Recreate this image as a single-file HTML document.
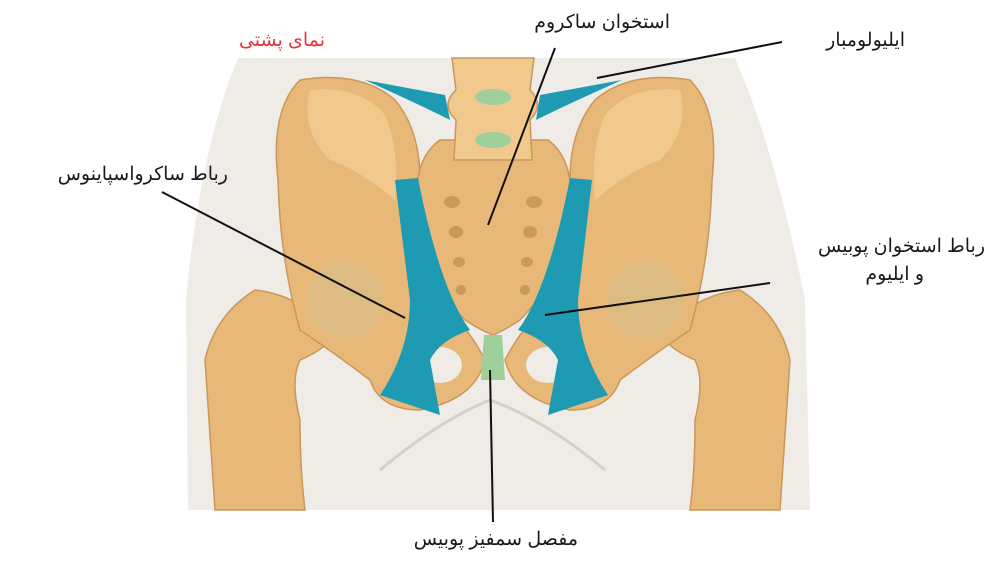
<!DOCTYPE html>
<html><head><meta charset="utf-8"><style>
body{margin:0;background:#fff;width:1000px;height:563px;overflow:hidden}
svg{display:block}
text{font-family:"Liberation Sans","Noto Sans CJK SC",sans-serif;font-size:19px;fill:#1a1a1a}
</style></head><body>
<svg width="1000" height="563" viewBox="0 0 1000 563">
<path d="M238 58 L735 58 Q775 150 805 300 L810 510 L188 510 L186 300 Q200 150 238 58 Z" fill="#efebe6"/>
<path d="M380 470 Q440 420 490 400 Q545 420 605 470" fill="none" stroke="#d6cfc7" stroke-width="3"/>
<g fill="#e7b877" stroke="#c9985a" stroke-width="1.5">
<path d="M215 510 L205 360 Q215 315 255 290 Q300 295 330 330 Q335 345 300 360 Q290 380 300 420 Q300 470 305 510 Z"/>
<path d="M780 510 L790 360 Q780 315 740 290 Q695 295 665 330 Q660 345 695 360 Q705 380 695 420 Q695 470 690 510 Z"/>
<path d="M300 80 Q360 70 395 100 Q420 130 420 180 L440 300 Q470 330 485 360 Q475 400 420 410 Q380 410 370 380 Q330 350 300 330 Q280 260 278 180 Q270 110 300 80 Z"/>
<path d="M690 80 Q630 70 595 100 Q570 130 570 180 L550 300 Q520 330 505 360 Q515 400 570 410 Q610 410 620 380 Q660 350 690 330 Q710 260 712 180 Q720 110 690 80 Z"/>
<path d="M440 140 L548 140 Q575 160 570 210 Q560 280 520 320 Q505 330 493 335 Q480 330 465 320 Q425 280 418 210 Q412 160 440 140 Z"/>
<path d="M452 58 L534 58 L530 90 Q545 105 530 120 L532 160 L454 160 L456 120 Q440 105 456 90 Z" fill="#f1c98d"/>
</g>
<path d="M310 90 Q360 85 385 115 Q400 150 395 200 Q360 170 330 160 Q300 130 310 90 Z" fill="#f2c98c"/>
<path d="M680 90 Q630 85 605 115 Q590 150 595 200 Q630 170 660 160 Q690 130 680 90 Z" fill="#f2c98c"/>
<circle cx="345" cy="300" r="38" fill="#d9bd84" opacity=".8"/>
<circle cx="645" cy="300" r="38" fill="#d9bd84" opacity=".8"/>
<ellipse cx="440" cy="365" rx="22" ry="18" fill="#efebe6"/>
<ellipse cx="548" cy="365" rx="22" ry="18" fill="#efebe6"/>
<ellipse cx="493" cy="97" rx="18" ry="8" fill="#9fcf9a"/>
<ellipse cx="493" cy="140" rx="18" ry="8" fill="#9fcf9a"/>
<path d="M484 335 L502 335 L505 380 L481 380 Z" fill="#9fcf9a"/>
<g fill="#c99a5c">
<ellipse cx="452" cy="202" rx="8" ry="6"/><ellipse cx="534" cy="202" rx="8" ry="6"/>
<ellipse cx="456" cy="232" rx="7" ry="6"/><ellipse cx="530" cy="232" rx="7" ry="6"/>
<ellipse cx="459" cy="262" rx="6" ry="5"/><ellipse cx="527" cy="262" rx="6" ry="5"/>
<ellipse cx="461" cy="290" rx="5" ry="5"/><ellipse cx="525" cy="290" rx="5" ry="5"/>
</g>
<g fill="#1e9bb3">
<path d="M365 80 L445 95 L450 120 Q420 105 365 80 Z"/>
<path d="M622 80 L540 95 L536 120 Q566 105 622 80 Z"/>
<path d="M395 180 L418 178 Q440 290 470 330 Q440 340 430 360 L440 415 L380 395 Q410 350 410 300 Z"/>
<path d="M592 180 L570 178 Q548 290 518 330 Q548 340 558 360 L548 415 L608 395 Q578 350 578 300 Z"/>
</g>
<text x="325" y="46" text-anchor="end" style="fill:#e8333c">نمای پشتی</text>
<text x="670" y="28" text-anchor="end">استخوان ساکروم</text>
<text x="905" y="46" text-anchor="end">ایلیولومبار</text>
<text x="228" y="180" text-anchor="end">رباط ساکرواسپاینوس</text>
<text x="985" y="252" text-anchor="end">رباط استخوان پوبیس</text>
<text x="924" y="280" text-anchor="end">و ایلیوم</text>
<text x="578" y="545" text-anchor="end">مفصل سمفیز پوبیس</text>
<g stroke="#111" stroke-width="2" fill="none">
<line x1="555" y1="48" x2="488" y2="225"/>
<line x1="782" y1="42" x2="597" y2="78"/>
<line x1="162" y1="192" x2="405" y2="318"/>
<line x1="770" y1="283" x2="545" y2="315"/>
<line x1="490" y1="370" x2="493" y2="522"/>
</g>
</svg>
</body></html>
